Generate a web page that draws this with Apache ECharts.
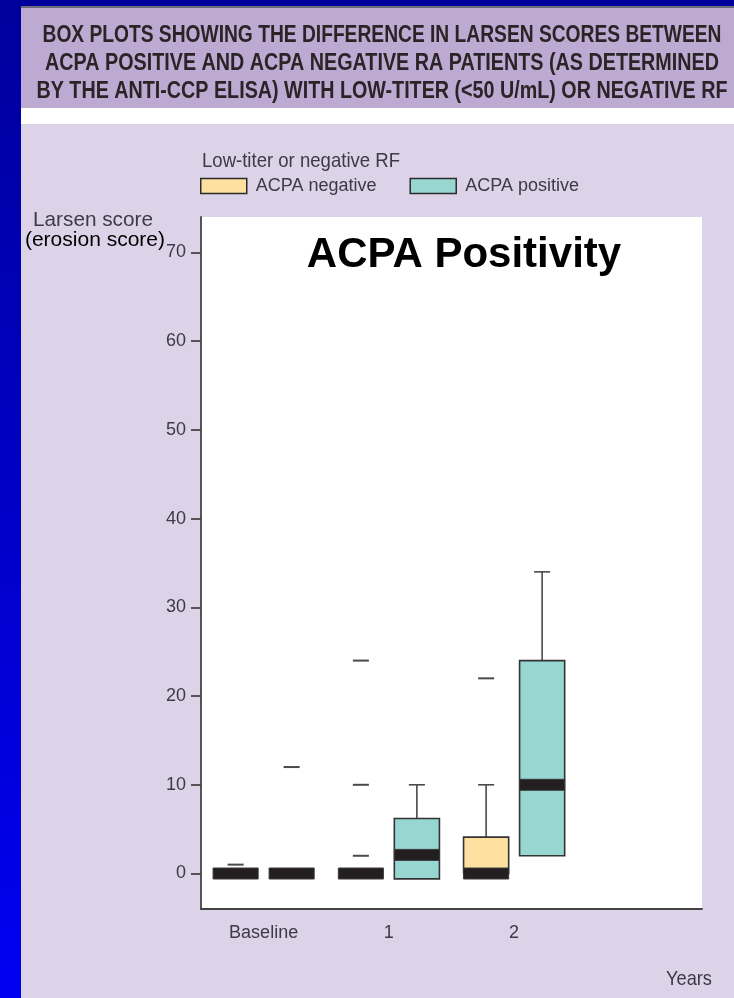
<!DOCTYPE html>
<html>
<head>
<meta charset="utf-8">
<script src="https://cdn.jsdelivr.net/npm/echarts@6/dist/echarts.min.js"></script>
<style>
  html, body { margin: 0; padding: 0; background: #dcd3e8; }
  #chart { width: 734px; height: 998px; }
</style>
</head>
<body>
<div id="chart"></div>
<script>
// Visits along the x axis
const categories = ['Baseline', '1', '2'];

// Box statistics per visit: [lower whisker, Q1, median, Q3, upper whisker]
const acpaNegativeBoxes = [
  [0, 0, 0, 0, 0],
  [0, 0, 0, 0, 0],
  [0, 0, 0, 4.1, 10]
];
const acpaPositiveBoxes = [
  [0, 0, 0, 0, 0],
  [-0.6, -0.6, 2.1, 6.2, 10],
  [2, 2, 10, 24, 34]
];

// Outlying scores: [visit index, score]
const acpaNegativeOutliers = [[0, 1], [1, 2], [1, 10], [1, 24], [2, 22]];
const acpaPositiveOutliers = [[0, 12]];

const yTicks = [0, 10, 20, 30, 40, 50, 60, 70];

const titleLines = [
  'BOX PLOTS SHOWING THE DIFFERENCE IN LARSEN SCORES BETWEEN',
  'ACPA POSITIVE AND ACPA NEGATIVE RA PATIENTS (AS DETERMINED',
  'BY THE ANTI-CCP ELISA) WITH LOW-TITER (<50 U/mL) OR NEGATIVE RF'
];

const SANS = "'Liberation Sans', Arial, Helvetica, sans-serif";
const LABEL_COLOR = '#3a3a48';
const NEG_FILL = '#fee1a0';
const POS_FILL = '#98d6d2';
const OUTLINE = '#333333';
const MEDIAN = '#231f20';

// Box offsets / sizes as fractions of a category band
const BOX_OFFSET = 0.2236;
const BOX_WIDTH = 0.36;
const CAP_WIDTH = 0.128;

// Horizontal squeeze so a regular sans reads like a condensed face
const measureCtx = document.createElement('canvas').getContext('2d');
function squeezeFor(text, font, width) {
  measureCtx.font = font;
  return width / measureCtx.measureText(text).width;
}

function boxRenderer(side, fill) {
  return function (params, api) {
    const cat = api.value(0);
    const band = api.size([1, 0])[0];
    const cx = api.coord([cat, 0])[0] + side * BOX_OFFSET * band;
    const w = band * BOX_WIDTH;
    const cap = band * CAP_WIDTH;
    const yLo = api.coord([cat, api.value(1)])[1];
    const yQ1 = api.coord([cat, api.value(2)])[1];
    const yMed = api.coord([cat, api.value(3)])[1];
    const yQ3 = api.coord([cat, api.value(4)])[1];
    const yHi = api.coord([cat, api.value(5)])[1];
    const lineStyle = { stroke: '#4a4a4a', lineWidth: 1.6 };
    const children = [];
    if (yQ3 - yHi > 0.5) {
      children.push({ type: 'line', shape: { x1: cx, y1: yQ3, x2: cx, y2: yHi }, style: lineStyle });
      children.push({ type: 'line', shape: { x1: cx - cap / 2, y1: yHi, x2: cx + cap / 2, y2: yHi }, style: lineStyle });
    }
    if (yLo - yQ1 > 0.5) {
      children.push({ type: 'line', shape: { x1: cx, y1: yQ1, x2: cx, y2: yLo }, style: lineStyle });
      children.push({ type: 'line', shape: { x1: cx - cap / 2, y1: yLo, x2: cx + cap / 2, y2: yLo }, style: lineStyle });
    }
    if (yQ1 - yQ3 > 0.5) {
      children.push({
        type: 'rect',
        shape: { x: cx - w / 2, y: yQ3, width: w, height: yQ1 - yQ3 },
        style: { fill: fill, stroke: OUTLINE, lineWidth: 1.6 }
      });
    }
    children.push({
      type: 'rect',
      shape: { x: cx - w / 2, y: yMed - 5.5, width: w, height: 11 },
      style: { fill: MEDIAN, stroke: '#3a3a3a', lineWidth: 1 }
    });
    return { type: 'group', children: children };
  };
}

function outlierRenderer(side) {
  return function (params, api) {
    const cat = api.value(0);
    const band = api.size([1, 0])[0];
    const cx = api.coord([cat, 0])[0] + side * BOX_OFFSET * band;
    const y = api.coord([cat, api.value(1)])[1];
    const half = band * CAP_WIDTH / 2;
    return {
      type: 'line',
      shape: { x1: cx - half, y1: y, x2: cx + half, y2: y },
      style: { stroke: '#4a4a4a', lineWidth: 2 }
    };
  };
}

const withIndex = (boxes) => boxes.map((b, i) => [i].concat(b));

function condensedText(text, x, y, opts) {
  const weight = opts.bold ? 'bold ' : '';
  const font = weight + opts.size + 'px ' + SANS;
  return {
    type: 'text', z: 10, silent: true,
    x: x, y: y,
    scaleX: squeezeFor(text, font, opts.width),
    style: {
      text: text, fill: opts.color,
      fontFamily: SANS, fontWeight: opts.bold ? 'bold' : 'normal', fontSize: opts.size,
      align: opts.align, verticalAlign: 'middle'
    }
  };
}

const chart = echarts.init(document.getElementById('chart'), null, { renderer: 'canvas' });

const graphicElements = [
  // frame: blue side strip and top band
  {
    type: 'rect', z: -10, silent: true,
    shape: { x: 0, y: 0, width: 21, height: 998 },
    style: {
      fill: new echarts.graphic.LinearGradient(0, 0, 0, 1, [
        { offset: 0, color: '#00009c' },
        { offset: 1, color: '#0000f2' }
      ])
    }
  },
  { type: 'rect', z: -10, silent: true, shape: { x: 0, y: 0, width: 734, height: 7 }, style: { fill: '#00009c' } },
  { type: 'rect', z: -10, silent: true, shape: { x: 21, y: 6, width: 713, height: 2 }, style: { fill: '#6b6b78' } },
  // title panel
  { type: 'rect', z: -10, silent: true, shape: { x: 21, y: 8, width: 713, height: 100 }, style: { fill: '#bcaad2' } },
  { type: 'rect', z: -10, silent: true, shape: { x: 21, y: 108, width: 713, height: 16 }, style: { fill: '#ffffff' } }
];

const titleWidths = [679, 674, 691];
titleLines.forEach((line, i) => {
  graphicElements.push(condensedText(line, 382, 35.5 + i * 28.3,
    { size: 23, bold: true, width: titleWidths[i], color: '#2a2426', align: 'center' }));
});

graphicElements.push(
  condensedText('Low-titer or negative RF', 202, 161, { size: 21, width: 198, color: LABEL_COLOR, align: 'left' }),
  condensedText('Larsen score', 33, 220, { size: 21, width: 120, color: LABEL_COLOR, align: 'left' }),
  condensedText('Years', 666, 979, { size: 21, width: 46, color: LABEL_COLOR, align: 'left' }),
  {
    type: 'text', z: 10, silent: true, x: 165, y: 240,
    style: { text: '(erosion score)', fill: '#000000', fontFamily: SANS, fontSize: 21, align: 'right', verticalAlign: 'middle' }
  },
  {
    type: 'text', z: 100, silent: true, x: 464, y: 255,
    style: { text: 'ACPA Positivity', fill: '#000000', fontFamily: SANS, fontWeight: 'bold', fontSize: 42, align: 'center', verticalAlign: 'middle' }
  }
);

const option = {
  backgroundColor: '#dcd3e8',
  animation: false,
  graphic: { elements: graphicElements },
  legend: {
    data: ['ACPA negative', 'ACPA positive'],
    left: 195, top: 172,
    icon: 'rect', itemWidth: 46, itemHeight: 15, itemGap: 33,
    selectedMode: false,
    itemStyle: { borderColor: '#2b2b2b', borderWidth: 1.5 },
    textStyle: { fontFamily: SANS, fontSize: 18, color: LABEL_COLOR, padding: [0, 0, 0, 4] }
  },
  grid: {
    left: 201, top: 217, right: 32, bottom: 89,
    show: true, backgroundColor: '#ffffff', borderWidth: 0
  },
  xAxis: {
    type: 'category',
    data: categories.concat(['']),
    boundaryGap: true,
    axisLine: { onZero: false, lineStyle: { color: '#444', width: 1.8 } },
    axisTick: { alignWithLabel: true, length: 10, interval: (i) => i < categories.length, lineStyle: { color: '#444', width: 1.8 } },
    axisLabel: { interval: 0, margin: 15, fontFamily: SANS, fontSize: 18, color: LABEL_COLOR },
    splitLine: { show: false }
  },
  yAxis: {
    type: 'value',
    min: -4, max: 74,
    axisLine: { show: true, lineStyle: { color: '#444', width: 1.8 } },
    axisTick: { show: true, length: 10, customValues: yTicks, lineStyle: { color: '#444', width: 1.8 } },
    axisLabel: { customValues: yTicks, margin: 15, fontFamily: SANS, fontSize: 18, color: LABEL_COLOR },
    splitLine: { show: false }
  },
  series: [
    {
      name: 'ACPA negative', type: 'custom',
      itemStyle: { color: NEG_FILL },
      renderItem: boxRenderer(-1, NEG_FILL),
      encode: { x: 0, y: [1, 2, 3, 4, 5] },
      data: withIndex(acpaNegativeBoxes), z: 3
    },
    {
      name: 'ACPA positive', type: 'custom',
      itemStyle: { color: POS_FILL },
      renderItem: boxRenderer(1, POS_FILL),
      encode: { x: 0, y: [1, 2, 3, 4, 5] },
      data: withIndex(acpaPositiveBoxes), z: 3
    },
    {
      name: 'ACPA negative', type: 'custom',
      itemStyle: { color: NEG_FILL },
      renderItem: outlierRenderer(-1),
      encode: { x: 0, y: 1 },
      data: acpaNegativeOutliers, z: 3
    },
    {
      name: 'ACPA positive', type: 'custom',
      itemStyle: { color: POS_FILL },
      renderItem: outlierRenderer(1),
      encode: { x: 0, y: 1 },
      data: acpaPositiveOutliers, z: 3
    }
  ]
};

chart.setOption(option);
</script>
</body>
</html>
